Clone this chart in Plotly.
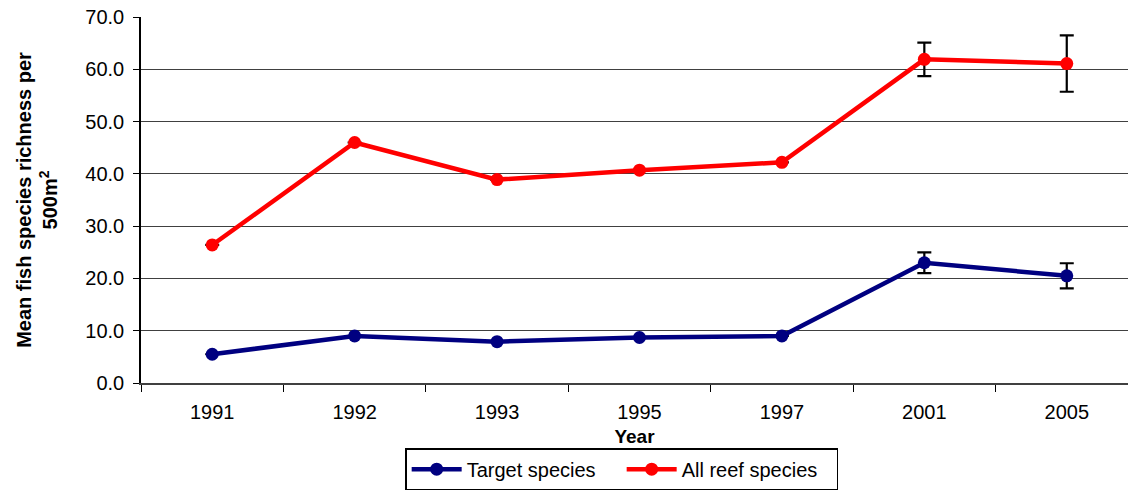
import plotly.graph_objects as go

years = ["1991", "1992", "1993", "1995", "1997", "2001", "2005"]
target = [5.5, 9.0, 7.9, 8.7, 9.0, 23.0, 20.5]
target_err = [None, None, None, None, None, 2.0, 2.4]
allreef = [26.4, 46.0, 38.9, 40.7, 42.2, 61.9, 61.1]
allreef_err = [None, None, None, None, None, 3.2, 5.4]
y_ticks = [0, 10, 20, 30, 40, 50, 60, 70]

FONT = "Liberation Sans, Arial, sans-serif"

fig = go.Figure()
for name, vals, errs, col in [
    ("Target species", target, target_err, "#000080"),
    ("All reef species", allreef, allreef_err, "#FF0000"),
]:
    fig.add_trace(go.Scatter(
        x=years, y=vals, name=name, mode="lines+markers",
        line=dict(color=col, width=4.5),
        marker=dict(color=col, size=13),
        error_y=dict(type="data", array=errs, visible=True,
                     color="black", thickness=2.2, width=7),
    ))

fig.update_layout(
    width=1128, height=491,
    margin=dict(l=141, r=0, t=17, b=108, autoexpand=False),
    paper_bgcolor="white", plot_bgcolor="white",
    font=dict(family=FONT, size=20, color="black"),
    showlegend=True,
    legend=dict(orientation="h", x=0.487, xanchor="center", y=-0.178, yanchor="top",
                bordercolor="black", borderwidth=1.5,
                font=dict(family=FONT, size=20), itemwidth=50,
                entrywidth=150, entrywidthmode="pixels",
                tracegroupgap=0),
    xaxis=dict(type="category", range=[-0.5, 6.43], showgrid=False, automargin=False,
               showline=True, linecolor="#404040", linewidth=2,
               ticks="outside", tickson="boundaries", ticklen=7, tickcolor="black",
               tickfont=dict(size=20), ticklabelstandoff=10,
               title=dict(text="<b>Year</b>", font=dict(size=19), standoff=8)),
    yaxis=dict(range=[0, 70], tickvals=y_ticks, tickformat=".1f", automargin=False,
               showgrid=True, gridcolor="#404040", gridwidth=1,
               showline=True, linecolor="black", linewidth=1.5,
               ticks="outside", ticklen=6, tickcolor="black",
               tickfont=dict(size=20), ticklabelstandoff=5, zeroline=False,
               title=dict(text="<b>Mean fish species richness per<br>500m<sup>2</sup></b>",
                          font=dict(size=20), standoff=22)),
)

fig.write_html("out.html", config={"displayModeBar": False},
               post_script="document.body.style.margin='0px';")
